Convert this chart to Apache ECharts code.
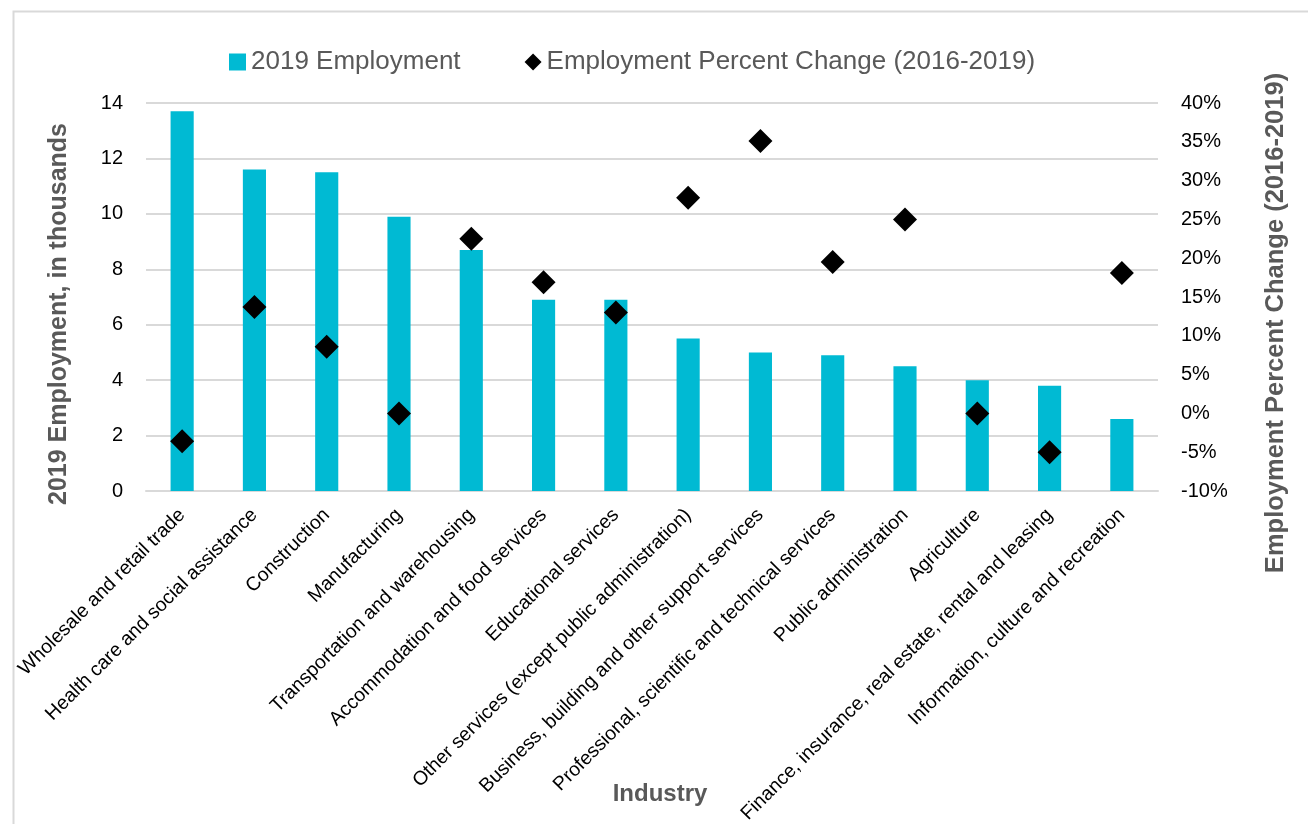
<!DOCTYPE html>
<html>
<head>
<meta charset="utf-8">
<script src="https://cdn.jsdelivr.net/npm/echarts@6/dist/echarts.min.js"></script>
<style>
html,body{margin:0;padding:0;background:#fff;}
#chart{width:1308px;height:824px;}
</style>
</head>
<body>
<div id="chart"></div>
<script>
const categories = [
  "Wholesale and retail trade",
  "Health care and social assistance",
  "Construction",
  "Manufacturing",
  "Transportation and warehousing",
  "Accommodation and food services",
  "Educational services",
  "Other services (except public administration)",
  "Business, building and other support services",
  "Professional, scientific and technical services",
  "Public administration",
  "Agriculture",
  "Finance, insurance, real estate, rental and leasing",
  "Information, culture and recreation"
];
const employment2019 = [13.7, 11.6, 11.5, 9.9, 8.7, 6.9, 6.9, 5.5, 5.0, 4.9, 4.5, 4.0, 3.8, 2.6];
const percentChange = [-3.6, 13.7, 8.6, 0.0, 22.5, 16.9, 13.0, 27.8, 35.1, 19.5, 25.0, 0.0, -5.0, 18.1];
const leftTicks = { min: 0, max: 14, interval: 2 };
const rightTicks = { min: -10, max: 40, interval: 5 };

const FONT = "Liberation Sans";
const chart = echarts.init(document.getElementById('chart'), null, { renderer: 'canvas' });
chart.setOption({
  backgroundColor: '#ffffff',
  animation: false,
  textStyle: { fontFamily: FONT },
  graphic: [{
    type: 'rect', left: 11, top: 9,
    shape: { width: 1296, height: 830 },
    style: { fill: 'none', stroke: '#d9d9d9', lineWidth: 2 },
    silent: true
  }],
  legend: {
    top: 44,
    left: 224,
    itemGap: 64,
    itemWidth: 17,
    itemHeight: 17,
    textStyle: { fontFamily: FONT, fontSize: 26, color: '#595959' },
    data: [
      { name: '2019 Employment', icon: 'rect' },
      { name: 'Employment Percent Change (2016-2019)', icon: 'diamond' }
    ]
  },
  grid: { left: 146, right: 150, top: 103, bottom: 333, containLabel: false, outerBoundsMode: 'none' },
  xAxis: {
    type: 'category',
    data: categories,
    axisLine: { lineStyle: { color: '#d9d9d9', width: 2 } },
    axisTick: { show: false },
    axisLabel: { interval: 0, rotate: 45, fontSize: 19.5, color: '#000', margin: 21, fontFamily: FONT },
    name: 'Industry',
    nameLocation: 'middle',
    nameGap: 291,
    nameMoveOverlap: false,
    nameTextStyle: { fontFamily: FONT, fontSize: 24, fontWeight: 'bold', color: '#595959', padding: [0, 0, 0, 16] }
  },
  yAxis: [{
    type: 'value',
    min: leftTicks.min, max: leftTicks.max, interval: leftTicks.interval,
    axisLine: { show: false },
    axisTick: { show: false },
    splitLine: { lineStyle: { color: '#d9d9d9', width: 2 } },
    axisLabel: { fontSize: 20, color: '#000', margin: 23, fontFamily: FONT },
    name: '2019 Employment, in thousands',
    nameLocation: 'middle',
    nameRotate: 90,
    nameGap: 74,
    nameMoveOverlap: false,
    nameTextStyle: { fontFamily: FONT, fontSize: 25, fontWeight: 'bold', color: '#595959', padding: [0, 34, 0, 0] }
  }, {
    type: 'value',
    min: rightTicks.min, max: rightTicks.max, interval: rightTicks.interval,
    position: 'right',
    axisLine: { show: false },
    axisTick: { show: false },
    splitLine: { show: false },
    axisLabel: { fontSize: 20, color: '#000', margin: 23, fontFamily: FONT, formatter: '{value}%' },
    name: 'Employment Percent Change (2016-2019)',
    nameLocation: 'middle',
    nameRotate: 90,
    nameGap: 105,
    nameMoveOverlap: false,
    nameTextStyle: { fontFamily: FONT, fontSize: 25.5, fontWeight: 'bold', color: '#595959', padding: [0, 52, 0, 0] }
  }],
  series: [{
    name: '2019 Employment',
    type: 'bar',
    data: employment2019,
    barWidth: '32%',
    itemStyle: { color: '#00bad3' },
    yAxisIndex: 0
  }, {
    name: 'Employment Percent Change (2016-2019)',
    type: 'scatter',
    data: percentChange,
    symbol: 'diamond',
    symbolSize: [24, 24],
    itemStyle: { color: '#000000', opacity: 1 },
    yAxisIndex: 1,
    z: 5
  }]
});
</script>
</body>
</html>
